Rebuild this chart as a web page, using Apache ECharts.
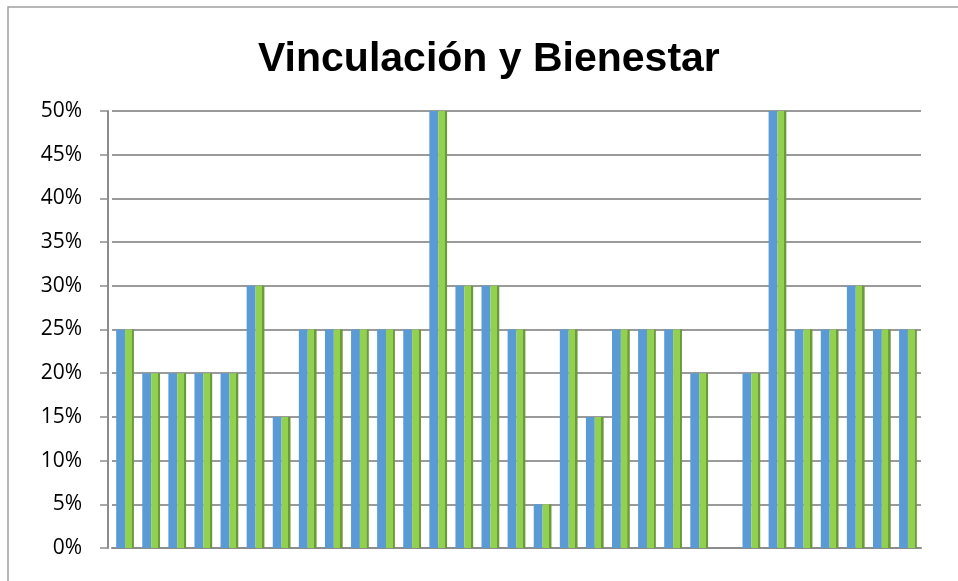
<!DOCTYPE html>
<html>
<head>
<meta charset="utf-8">
<title>Vinculación y Bienestar</title>
<script src="https://cdn.jsdelivr.net/npm/echarts@6/dist/echarts.min.js"></script>
<style>
  html, body { margin: 0; padding: 0; background: #fff; }
  #chart { width: 958px; height: 581px; }
</style>
</head>
<body>
<div id="chart"></div>
<script>
// preguntas del bloque (sin etiqueta visible en el eje)
const categories = ['P1', 'P2', 'P3', 'P4', 'P5', 'P6', 'P7', 'P8', 'P9', 'P10',
  'P11', 'P12', 'P13', 'P14', 'P15', 'P16', 'P17', 'P18', 'P19', 'P20',
  'P21', 'P22', 'P23', 'P24', 'P25', 'P26', 'P27', 'P28', 'P29', 'P30', 'P31']

// porcentajes, ambas series iguales
const serie1 = [25, 20, 20, 20, 20, 30, 15, 25, 25, 25, 25, 25, 50, 30, 30, 25,
  5, 25, 15, 25, 25, 25, 20, 0, 20, 50, 25, 25, 30, 25, 25]
const serie2 = [25, 20, 20, 20, 20, 30, 15, 25, 25, 25, 25, 25, 50, 30, 30, 25,
  5, 25, 15, 25, 25, 25, 20, 0, 20, 50, 25, 25, 30, 25, 25]

const yTicks = { min: 0, max: 50, interval: 5 }

const palette = {
  blue: '#5b9bd5',
  green: '#92d050',
  greenSide: '#6b9a3a',
  grid: '#9a9a9a',
  text: '#000'
}

const chart = echarts.init(document.getElementById('chart'))

chart.setOption({
  backgroundColor: '#fff',
  animation: false,
  title: {
    text: 'Vinculación y Bienestar',
    left: 253,
    top: 34,
    textStyle: {
      fontFamily: 'Liberation Sans, sans-serif',
      fontSize: 41,
      fontWeight: 'bold',
      color: palette.text
    }
  },
  graphic: [{
    type: 'rect',
    shape: { x: 8, y: 7, width: 980, height: 620 },
    style: { fill: 'none', stroke: '#a0a0a0', lineWidth: 1.5 },
    silent: true
  }],
  grid: { left: 112, right: 37, top: 111, bottom: 33 },
  xAxis: {
    type: 'category',
    data: categories,
    axisLine: { lineStyle: { color: '#8c8c8c', width: 2 } },
    axisTick: { show: false },
    axisLabel: { show: false }
  },
  yAxis: {
    type: 'value',
    ...yTicks,
    offset: 4,
    axisLine: { show: true, lineStyle: { color: '#8c8c8c', width: 2 } },
    axisTick: { show: true, length: 8, lineStyle: { color: '#8c8c8c', width: 1.5 } },
    axisLabel: {
      formatter: '{value}%',
      margin: 26,
      fontFamily: 'Open Sans, Liberation Sans, sans-serif',
      fontSize: 21,
      color: palette.text
    },
    splitLine: { lineStyle: { color: palette.grid, width: 1.8 } }
  },
  series: [{
    name: 'Serie1',
    type: 'bar',
    data: serie1,
    barGap: 0,
    barCategoryGap: '32%',
    itemStyle: { color: palette.blue }
  }, {
    name: 'Serie2',
    type: 'bar',
    data: serie2,
    itemStyle: {
      color: new echarts.graphic.LinearGradient(0, 0, 1, 0, [
        { offset: 0, color: palette.green },
        { offset: 0.74, color: palette.green },
        { offset: 0.75, color: palette.greenSide },
        { offset: 1, color: palette.greenSide }
      ])
    }
  }]
})
</script>
</body>
</html>
